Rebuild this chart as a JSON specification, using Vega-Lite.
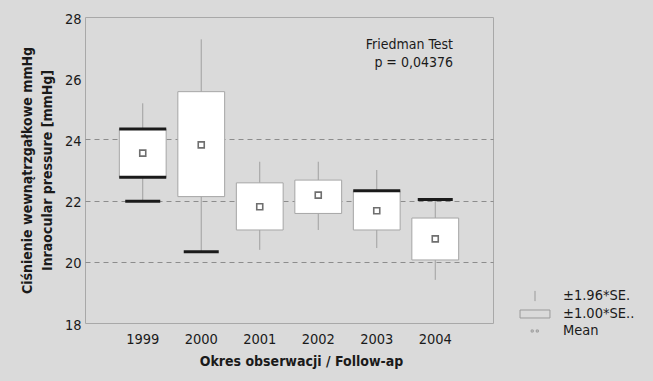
{
  "$schema": "https://vega.github.io/schema/vega-lite/v6.json",
  "width": 408,
  "height": 306,
  "autosize": {"type": "none"},
  "padding": {"left": 85, "top": 17, "right": 160, "bottom": 58},
  "background": "#dadada",
  "config": {
    "view": {"fill": "white", "stroke": "#a8a8a8", "strokeWidth": 1},
    "font": "DejaVu Sans Condensed, Roboto, sans-serif",
    "axis": {"labelFont": "DejaVu Sans Condensed, Roboto, sans-serif", "titleFont": "DejaVu Sans Condensed, Roboto, sans-serif", "labelColor": "#1a1a1a", "titleColor": "#1a1a1a"},
    "legend": {"labelFont": "DejaVu Sans Condensed, Roboto, sans-serif"},
    "title": {"font": "DejaVu Sans Condensed, Roboto, sans-serif", "subtitleFont": "DejaVu Sans Condensed, Roboto, sans-serif"}
  },
  "title": {
    "text": "Friedman Test",
    "subtitle": "p = 0,04376",
    "anchor": "end",
    "frame": "group",
    "orient": "top",
    "offset": -59,
    "dx": -40,
    "fontSize": 14,
    "fontWeight": "normal",
    "subtitleFontSize": 14,
    "subtitlePadding": 4,
    "color": "#1a1a1a",
    "subtitleColor": "#1a1a1a"
  },
  "datasets": {
    "stats": [
      {"year": "1999", "mean": 23.55, "se_lo": 22.76, "se_hi": 24.34, "ci_lo": 21.98, "ci_hi": 25.18},
      {"year": "2000", "mean": 23.82, "se_lo": 22.13, "se_hi": 25.56, "ci_lo": 20.33, "ci_hi": 27.27},
      {"year": "2001", "mean": 21.80, "se_lo": 21.04, "se_hi": 22.58, "ci_lo": 20.39, "ci_hi": 23.27},
      {"year": "2002", "mean": 22.18, "se_lo": 21.58, "se_hi": 22.67, "ci_lo": 21.04, "ci_hi": 23.27},
      {"year": "2003", "mean": 21.67, "se_lo": 21.04, "se_hi": 22.32, "ci_lo": 20.45, "ci_hi": 23.00},
      {"year": "2004", "mean": 20.75, "se_lo": 20.06, "se_hi": 21.43, "ci_lo": 19.41, "ci_hi": 22.04}
    ],
    "legendItems": [
      {"item": "±1.96*SE."},
      {"item": "±1.00*SE.."},
      {"item": "Mean"}
    ]
  },
  "layer": [
    {
      "data": {"name": "stats"},
      "mark": {"type": "rule", "color": "#a0a0a0", "strokeWidth": 1},
      "encoding": {
        "x": {
          "field": "year", "type": "ordinal",
          "scale": {"type": "band", "paddingInner": 0, "paddingOuter": 0.487},
          "axis": {
            "title": "Okres obserwacji / Follow-ap",
            "labelAngle": 0, "ticks": false, "domain": false, "grid": false,
            "labelFontSize": 14.5, "labelPadding": 9,
            "titleFontSize": 14, "titleFontWeight": "bold", "titlePadding": 9,
            "titleX": 216
          }
        },
        "y": {
          "field": "ci_lo", "type": "quantitative",
          "scale": {"domain": [18, 28], "nice": false, "zero": false},
          "axis": {
            "title": ["Ciśnienie wewnątrzgałkowe mmHg", "Inraocular pressure [mmHg]"],
            "values": [18, 20, 22, 24, 26, 28],
            "grid": true,
            "gridDash": [5, 4],
            "gridColor": "#8c8c8c",
            "gridOpacity": {"condition": {"test": "datum.value == 20 || datum.value == 22 || datum.value == 24", "value": 1}, "value": 0},
            "ticks": false, "domain": false,
            "labelFontSize": 14.5, "labelPadding": 4, "labelOffset": 2,
            "titleFontSize": 14, "titleFontWeight": "bold", "titleLineHeight": 20, "titlePadding": 10
          }
        },
        "y2": {"field": "ci_hi"}
      }
    },
    {
      "data": {"name": "stats"},
      "mark": {"type": "rect", "width": {"band": 0.8}, "fill": "white", "stroke": "#a6a6a6", "strokeWidth": 1},
      "encoding": {
        "x": {"field": "year", "type": "ordinal"},
        "y": {"field": "se_lo", "type": "quantitative"},
        "y2": {"field": "se_hi"}
      }
    },
    {
      "data": {"name": "stats"},
      "mark": {"type": "point", "shape": "square", "size": 36, "filled": false, "stroke": "#333333", "strokeWidth": 1.6},
      "encoding": {
        "x": {"field": "year", "type": "ordinal"},
        "y": {"field": "mean", "type": "quantitative"}
      }
    },
    {
      "data": {"name": "stats"},
      "transform": [{"filter": "datum.year == '1999' || datum.year == '2003'"}],
      "mark": {"type": "tick", "size": 47, "thickness": 3, "color": "#1a1a1a", "opacity": 1},
      "encoding": {
        "x": {"field": "year", "type": "ordinal"},
        "y": {"field": "se_hi", "type": "quantitative"}
      }
    },
    {
      "data": {"name": "stats"},
      "transform": [{"filter": "datum.year == '1999'"}],
      "mark": {"type": "tick", "size": 47, "thickness": 3, "color": "#1a1a1a", "opacity": 1},
      "encoding": {
        "x": {"field": "year", "type": "ordinal"},
        "y": {"field": "se_lo", "type": "quantitative"}
      }
    },
    {
      "data": {"name": "stats"},
      "transform": [{"filter": "datum.year == '1999' || datum.year == '2000'"}],
      "mark": {"type": "tick", "size": 35, "thickness": 3, "color": "#1a1a1a", "opacity": 1},
      "encoding": {
        "x": {"field": "year", "type": "ordinal"},
        "y": {"field": "ci_lo", "type": "quantitative"}
      }
    },
    {
      "data": {"name": "stats"},
      "transform": [{"filter": "datum.year == '2004'"}],
      "mark": {"type": "tick", "size": 35, "thickness": 3, "color": "#1a1a1a", "opacity": 1},
      "encoding": {
        "x": {"field": "year", "type": "ordinal"},
        "y": {"field": "ci_hi", "type": "quantitative"}
      }
    },
    {
      "data": {"name": "legendItems"},
      "mark": {"type": "point", "opacity": 0},
      "encoding": {
        "shape": {
          "field": "item", "type": "nominal",
          "scale": {
            "domain": ["±1.96*SE.", "±1.00*SE..", "Mean"],
            "range": ["M0,-0.6L0,0.6", "M-1.76,-0.47H1.76V0.47H-1.76Z", "M-0.45,-0.12h0.24v0.24h-0.24Z M0.15,-0.12h0.24v0.24h-0.24Z"]
          },
          "legend": {
            "title": null, "orient": "none", "legendX": 441, "legendY": 270,
            "symbolSize": 289, "symbolStrokeColor": "#9a9a9a", "symbolFillColor": "white",
            "symbolStrokeWidth": 1, "symbolOpacity": 1,
            "labelFontSize": 14.5, "labelOffset": 19, "rowPadding": 1, "labelColor": "#1a1a1a"
          }
        }
      }
    }
  ]
}
